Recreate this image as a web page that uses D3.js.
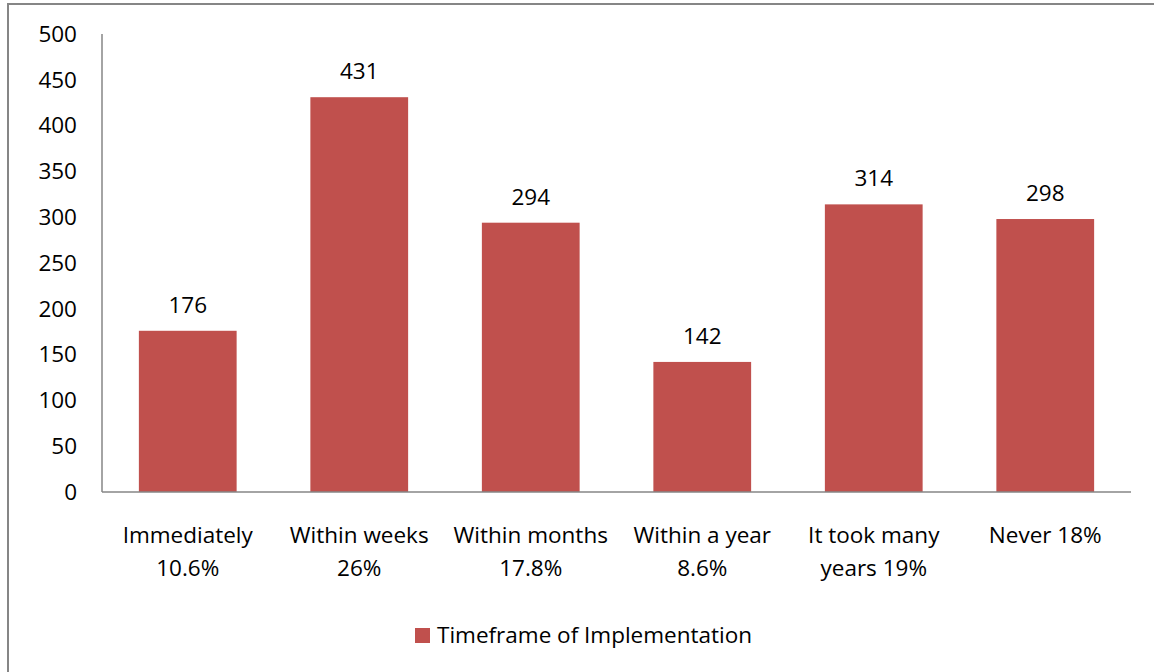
<!DOCTYPE html>
<meta charset="utf-8">
<style>
body { margin: 0; background: #fff; }
text { font-family: "Open Sans", "Noto Sans", sans-serif; font-size: 22.5px; fill: #000; }
</style>
<body>
<script src="https://cdn.jsdelivr.net/npm/d3@7"></script>
<script>
var width = 1154, height = 672;

var categories = [["Immediately", "10.6%"], ["Within weeks", "26%"], ["Within months", "17.8%"],
                  ["Within a year", "8.6%"], ["It took many", "years 19%"], ["Never 18%"]];
var values = [176, 431, 294, 142, 314, 298];
var yTicks = [0, 50, 100, 150, 200, 250, 300, 350, 400, 450, 500];
var seriesName = "Timeframe of Implementation";
var barColor = "#C0504D";

var svg = d3.select("body").append("svg")
    .attr("width", width)
    .attr("height", height);

// chart border
svg.append("rect")
    .attr("x", 8).attr("y", 4)
    .attr("width", width).attr("height", height)
    .attr("fill", "none")
    .attr("stroke", "#868686")
    .attr("stroke-width", 2);

var x = d3.scaleBand()
    .domain(d3.range(values.length))
    .range([102, 1131])
    .paddingInner(0.43)
    .paddingOuter(0.215);

var y = d3.scaleLinear()
    .domain([0, 500])
    .range([492, 34]);

// y tick labels
svg.selectAll(".ytick")
    .data(yTicks)
    .enter().append("text")
    .attr("class", "ytick")
    .attr("x", 77)
    .attr("y", function(d) { return y(d); })
    .attr("dy", "0.35em")
    .style("text-anchor", "end")
    .text(function(d) { return d; });

svg.selectAll(".bar")
    .data(values)
    .enter().append("rect")
    .attr("class", "bar")
    .attr("x", function(d, i) { return x(i); })
    .attr("y", function(d) { return y(d); })
    .attr("width", x.bandwidth())
    .attr("height", function(d) { return y(0) - y(d); })
    .attr("fill", barColor);

svg.selectAll(".val")
    .data(values)
    .enter().append("text")
    .attr("class", "val")
    .attr("x", function(d, i) { return x(i) + x.bandwidth() / 2; })
    .attr("y", function(d) { return y(d) - 18; })
    .style("text-anchor", "middle")
    .text(function(d) { return d; });

// axes lines
svg.append("line")
    .attr("x1", 102).attr("x2", 102)
    .attr("y1", 34).attr("y2", 492)
    .attr("stroke", "#868686").attr("stroke-width", 1.5);
svg.append("line")
    .attr("x1", 102).attr("x2", 1131)
    .attr("y1", 492).attr("y2", 492)
    .attr("stroke", "#868686").attr("stroke-width", 1.5);

// category labels
var cat = svg.selectAll(".cat")
    .data(categories)
    .enter().append("text")
    .attr("class", "cat")
    .attr("x", function(d, i) { return x(i) + x.bandwidth() / 2; })
    .attr("y", 543)
    .style("text-anchor", "middle");
cat.selectAll("tspan")
    .data(function(d) { return d; })
    .enter().append("tspan")
    .attr("x", function() { return d3.select(this.parentNode).attr("x"); })
    .attr("dy", function(d, i) { return i === 0 ? 0 : 33; })
    .text(function(d) { return d; });

// legend
svg.append("rect")
    .attr("x", 415).attr("y", 628)
    .attr("width", 15).attr("height", 15)
    .attr("fill", barColor);
svg.append("text")
    .attr("x", 437).attr("y", 643)
    .text(seriesName);
</script>
